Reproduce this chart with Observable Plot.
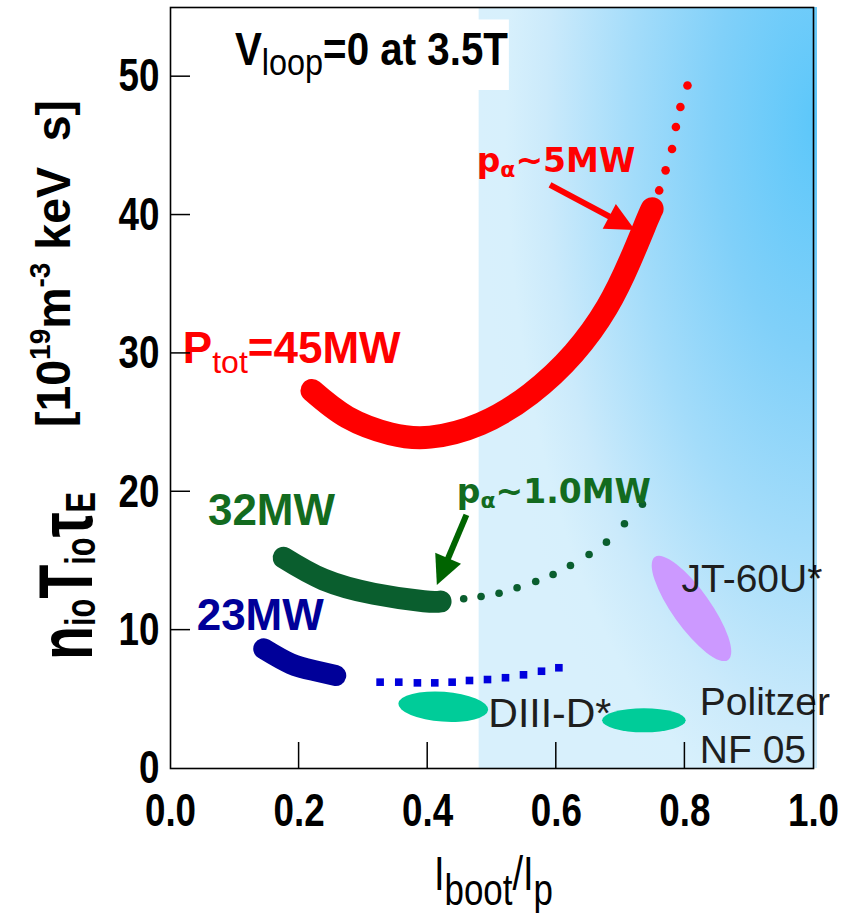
<!DOCTYPE html>
<html><head><meta charset="utf-8">
<script src="https://cdn.jsdelivr.net/npm/d3@7"></script>
<script src="https://cdn.jsdelivr.net/npm/@observablehq/plot@0.6"></script>
<style>body{margin:0;background:#fff} svg{display:block}</style>
</head><body><div id="chart"></div>
<script>
// ---------------- data ----------------
const xTicks = [0, 0.2, 0.4, 0.6, 0.8, 1.0];
const yTicks = [0, 10, 20, 30, 40, 50];
const innerXTicks = [0.2, 0.4, 0.6, 0.8];
const innerYTicks = [10, 20, 30, 40, 50];

// P_tot = 45 MW (solid) and its dotted continuation
const red45X = [0.220, 0.275, 0.342, 0.404, 0.482, 0.560, 0.627, 0.679, 0.715, 0.741, 0.749];
const red45Y = [27.32, 25.39, 24.19, 23.95, 24.91, 27.08, 30.0, 33.34, 36.72, 39.61, 40.45];
const redDotX = [0.760, 0.770, 0.780, 0.786, 0.793, 0.804];
const redDotY = [41.78, 43.23, 44.77, 46.36, 47.81, 49.36];

// 32 MW
const green32X = [0.176, 0.238, 0.316, 0.394, 0.420];
const green32Y = [15.23, 13.66, 12.63, 12.09, 12.07];
const greenDotX = [0.456, 0.483, 0.511, 0.539, 0.568, 0.595, 0.622, 0.651, 0.678, 0.706, 0.734];
const greenDotY = [12.27, 12.43, 12.67, 13.06, 13.52, 14.02, 14.67, 15.47, 16.36, 17.69, 19.1];

// 23 MW
const blue23X = [0.145, 0.187, 0.223, 0.257];
const blue23Y = [8.65, 7.57, 7.08, 6.72];
const blueDotX = [0.326, 0.355, 0.384, 0.411, 0.438, 0.465, 0.493, 0.521, 0.549, 0.577, 0.604];
const blueDotY = [6.24, 6.24, 6.19, 6.19, 6.24, 6.36, 6.43, 6.56, 6.77, 7.03, 7.28];

// experimental regions (ellipses): centre and half-extent in data units
const expName = ["DIII-D*", "Politzer NF 05"];
const expX = [0.425, 0.737];
const expY = [4.43, 3.45];
const expHalfX = [0.070, 0.065];
const expHalfY = [1.08, 0.87];
// JT-60U*: ends of the long axis
const jtX = [0.754, 0.868];
const jtY = [15.25, 7.81];

// bootstrap-dominated region
const regionX = [0.48, 1.0];
const titleBoxX = [0.07, 0.527];
const titleBoxY = [49.0, 54.1];

// arrows [from, to]
const arrowFromX = [0.591, 0.461];
const arrowFromY = [42.14, 18.29];
const arrowToX = [0.723, 0.415];
const arrowToY = [38.88, 13.23];

// label anchors (data units)
const vloopPos = [0.101, 50.8];
const ptotPos = [0.020, 29.27];
const palpha5Pos = [0.477, 43.1];
const mw32Pos = [0.059, 17.56];
const mw23Pos = [0.0415, 9.97];
const palpha1Pos = [0.446, 19.13];
const jtPos = [0.7955, 12.73];
const politzerPos = [0.824, 3.83];
const nf05Pos = [0.824, 0.34];
const diiidPos = [0.495, 2.99];

// ---------------- styles ----------------
const RED = "#ff0000", GREEN = "#0a5e2e", GREEN_T = "#136b1f", BLUE = "#000099", BLUE_DOT = "#0000dd";
const TEAL = "#00cc99", PURPLE = "#cc99ff", GREY = "#1e1e1e";
const SANS = "'Liberation Sans', Arial, sans-serif";
const VERD = "'DejaVu Sans', Verdana, sans-serif";

const pts = (xs, ys) => xs.map((x, i) => ({x, y: ys[i]}));

const fnMark = draw => (index, scales, values, dims) => {
  const g = d3.create("svg:g");
  draw(g, scales, dims);
  return g.node();
};

function rich(g, px, py, parts, opt) {
  const t = g.append("text").attr("x", px).attr("y", py)
    .attr("text-anchor", "start")
    .attr("fill", opt.fill || "#000")
    .attr("font-family", opt.family || SANS)
    .attr("font-weight", opt.weight || "bold")
    .attr("font-size", opt.size);
  if (opt.rotate) t.attr("transform", `rotate(${opt.rotate},${px},${py})`);
  let shift = 0;
  for (const p of parts) {
    const s = t.append("tspan").text(p.t);
    if (p.size) s.attr("font-size", p.size);
    if (p.weight) s.attr("font-weight", p.weight);
    const target = p.shift || 0;
    if (target !== shift) { s.attr("dy", target - shift); shift = target; }
  }
  if (opt.length) t.attr("data-length", opt.length);
  return t;
}

const background = fnMark((g, {x, y}) => {
  const defs = g.append("defs");
  const rg = defs.append("radialGradient").attr("id", "bsGrad")
    .attr("cx", 1).attr("cy", 0.15).attr("r", 1.0).attr("fx", 1).attr("fy", 0.15);
  [[0, "#5cc7fa"], [0.3, "#80d0f9"], [0.55, "#a3dcfa"], [0.8, "#cbeafb"], [0.92, "#d7f0fc"], [1, "#d8f0fc"]]
    .forEach(([o, c]) => rg.append("stop").attr("offset", o).attr("stop-color", c));
  g.append("rect").attr("x", x(regionX[0])).attr("y", y(55))
    .attr("width", x(regionX[1]) - x(regionX[0]) + 4).attr("height", y(0) - y(55))
    .attr("fill", "url(#bsGrad)");
  g.append("rect").attr("x", x(titleBoxX[0])).attr("y", y(titleBoxY[1]))
    .attr("width", x(titleBoxX[1]) - x(titleBoxX[0])).attr("height", y(titleBoxY[0]) - y(titleBoxY[1]))
    .attr("fill", "#fff");
});

const ellipses = fnMark((g, {x, y}) => {
  const tilt = [4, 0];
  expX.forEach((cx, i) => {
    const px = x(cx), py = y(expY[i]);
    g.append("ellipse").attr("cx", px).attr("cy", py)
      .attr("rx", x(cx + expHalfX[i]) - px).attr("ry", py - y(expY[i] + expHalfY[i]))
      .attr("transform", `rotate(${tilt[i]},${px},${py})`)
      .attr("fill", TEAL);
  });
  const ax = x(jtX[0]), ay = y(jtY[0]), bx = x(jtX[1]), by = y(jtY[1]);
  const cx = (ax + bx) / 2, cy = (ay + by) / 2;
  const ang = Math.atan2(by - ay, bx - ax) * 180 / Math.PI;
  g.append("ellipse").attr("cx", cx).attr("cy", cy)
    .attr("rx", Math.hypot(bx - ax, by - ay) / 2).attr("ry", 19)
    .attr("transform", `rotate(${ang},${cx},${cy})`).attr("fill", PURPLE);
});

const arrows = fnMark((g, {x, y}) => {
  const colors = [RED, "#006400"];
  arrowFromX.forEach((fx, i) => {
    const x1 = x(fx), y1 = y(arrowFromY[i]), x2 = x(arrowToX[i]), y2 = y(arrowToY[i]);
    const dx = x2 - x1, dy = y2 - y1, L = Math.hypot(dx, dy), ux = dx / L, uy = dy / L;
    const hl = 29, hw = 14;
    const bx = x2 - ux * hl, by = y2 - uy * hl;
    g.append("line").attr("x1", x1).attr("y1", y1).attr("x2", bx + ux * 3).attr("y2", by + uy * 3)
      .attr("stroke", colors[i]).attr("stroke-width", 6);
    g.append("path").attr("d", `M${x2},${y2}L${bx - uy * hw},${by + ux * hw}L${bx + uy * hw},${by - ux * hw}Z`)
      .attr("fill", colors[i]);
  });
});

const labels = fnMark((g, {x, y}) => {
  rich(g, x(vloopPos[0]), y(vloopPos[1]), [
    {t: "V"}, {t: "loop", size: 37, weight: "normal", shift: 10}, {t: "=0 at 3.5T", shift: 0}
  ], {size: 46, length: 273});
  rich(g, x(ptotPos[0]), y(ptotPos[1]), [
    {t: "P"}, {t: "tot", size: 32, weight: "normal", shift: 10}, {t: "=45MW", shift: 0}
  ], {size: 44, fill: RED});
  rich(g, x(palpha5Pos[0]), y(palpha5Pos[1]), [
    {t: "p"}, {t: "α", size: 22, shift: 5}, {t: "~5MW", shift: 0}
  ], {size: 33, fill: RED, family: VERD});
  rich(g, x(mw32Pos[0]), y(mw32Pos[1]), [{t: "32MW"}], {size: 44, fill: GREEN_T});
  rich(g, x(mw23Pos[0]), y(mw23Pos[1]), [{t: "23MW"}], {size: 44, fill: BLUE});
  rich(g, x(palpha1Pos[0]), y(palpha1Pos[1]), [
    {t: "p"}, {t: "α", size: 22, shift: 5}, {t: "~1.0MW", shift: 0}
  ], {size: 33, fill: GREEN_T, family: VERD});
  rich(g, x(jtPos[0]), y(jtPos[1]), [{t: "JT-60U*"}], {size: 39, weight: "normal", fill: GREY});
  rich(g, x(politzerPos[0]), y(politzerPos[1]), [{t: "Politzer"}], {size: 39, weight: "normal", fill: GREY});
  rich(g, x(nf05Pos[0]), y(nf05Pos[1]), [{t: "NF 05"}], {size: 39, weight: "normal", fill: GREY});
  rich(g, x(diiidPos[0]), y(diiidPos[1]), [{t: "DIII-D*"}], {size: 41, weight: "normal", fill: GREY});
});

const ticks = fnMark((g, {x, y}) => {
  innerXTicks.forEach(v => g.append("line").attr("x1", x(v)).attr("x2", x(v))
    .attr("y1", y(0)).attr("y2", y(0) - 26).attr("stroke", "#000").attr("stroke-width", 1.5));
  innerYTicks.forEach(v => g.append("line").attr("y1", y(v)).attr("y2", y(v))
    .attr("x1", x(0)).attr("x2", x(0) + 20).attr("stroke", "#000").attr("stroke-width", 1.5));
});

const axisTitles = fnMark((g) => {
  rich(g, 92, 660, [
    {t: "n"}, {t: "io", size: 42, shift: 3}, {t: "T", shift: 0}, {t: "io", size: 42, shift: 3},
    {t: "τ", shift: 0}, {t: "E", size: 42, shift: 3}
  ], {size: 76, rotate: -90, length: 168});
  rich(g, 70, 427, [
    {t: "[10"}, {t: "19", size: 29, shift: -20}, {t: "m", shift: 0}, {t: "-3", size: 29, shift: -20},
    {t: " keV  s]", shift: 0}
  ], {size: 48, rotate: -90, length: 327});
  rich(g, 434, 890, [
    {t: "I"}, {t: "boot", size: 44, shift: 15}, {t: "/I", shift: 0}, {t: "p", size: 44, shift: 15}
  ], {size: 48, weight: "normal", length: 119});
});

const plot = Plot.plot({
  width: 844, height: 913,
  marginLeft: 170, marginRight: 31, marginTop: 7, marginBottom: 145,
  x: {domain: [0, 1]},
  y: {domain: [0, 55]},
  style: {fontFamily: SANS, background: "#fff", color: "#000"},
  marks: [
    background,
    ellipses,
    Plot.line(pts(red45X, red45Y), {x: "x", y: "y", stroke: RED, strokeWidth: 23, strokeLinecap: "round", curve: "natural"}),
    Plot.line(pts(green32X, green32Y), {x: "x", y: "y", stroke: GREEN, strokeWidth: 22, strokeLinecap: "round", curve: "natural"}),
    Plot.line(pts(blue23X, blue23Y), {x: "x", y: "y", stroke: BLUE, strokeWidth: 21, strokeLinecap: "round", curve: "natural"}),
    Plot.dot(pts(redDotX, redDotY), {x: "x", y: "y", r: 4.3, fill: RED}),
    Plot.dot(pts(greenDotX, greenDotY), {x: "x", y: "y", r: 3.8, fill: GREEN}),
    Plot.dot(pts(blueDotX, blueDotY), {x: "x", y: "y", r: 4.3, symbol: "square", fill: BLUE_DOT}),
    arrows,
    labels,
    ticks,
    Plot.frame({stroke: "#000", strokeWidth: 1.6}),
    Plot.axisX({ticks: xTicks, tickSize: 0, tickPadding: 25, tickFormat: d3.format(".1f"), fontSize: 46, fontWeight: "bold", label: null}),
    Plot.axisY({ticks: yTicks, tickSize: 0, tickPadding: 11, tickFormat: d3.format("d"), fontSize: 46, fontWeight: "bold", label: null}),
    axisTitles
  ]
});

document.getElementById("chart").appendChild(plot);

// condensed lettering (the original uses a narrow bold face)
plot.querySelectorAll('g[aria-label="x-axis tick label"] text, g[aria-label="y-axis tick label"] text').forEach(t => {
  t.setAttribute("font-weight", "bold");
  t.setAttribute("font-size", 46);
  const L = t.getComputedTextLength();
  t.setAttribute("textLength", L * 0.8);
  t.setAttribute("lengthAdjust", "spacingAndGlyphs");
});
plot.querySelectorAll("text[data-length]").forEach(t => {
  t.setAttribute("textLength", t.getAttribute("data-length"));
  t.setAttribute("lengthAdjust", "spacingAndGlyphs");
});
</script>
</body></html>
